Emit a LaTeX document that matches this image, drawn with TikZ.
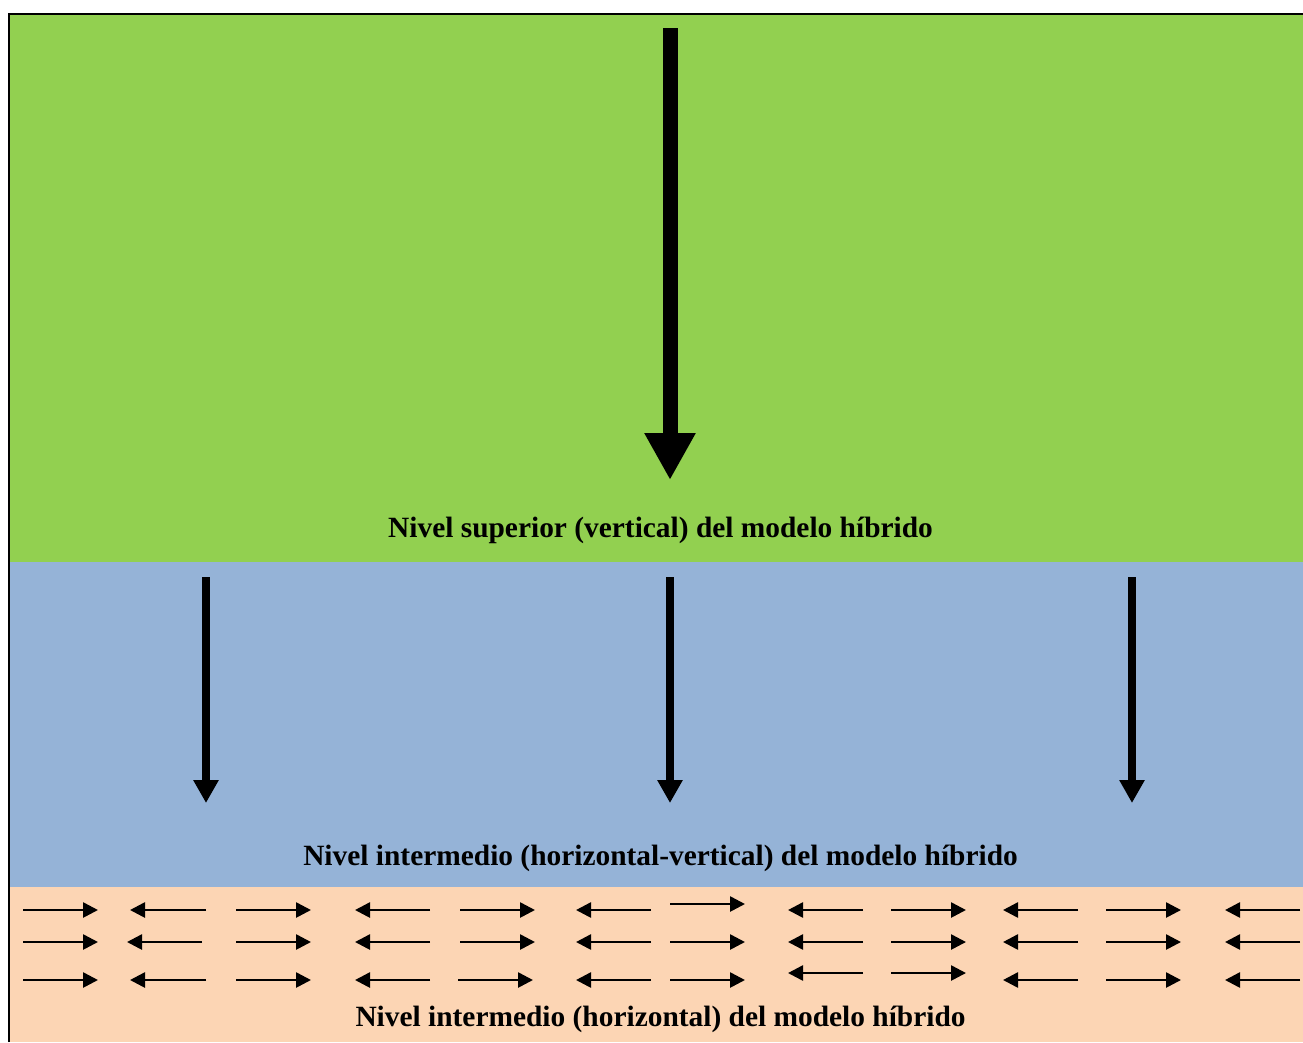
\documentclass[tikz,border=0pt]{standalone}
\usepackage{fontspec}
\setmainfont{Liberation Serif}
\usepackage{tikz}
\usetikzlibrary{arrows.meta,positioning}
\definecolor{nivelverde}{RGB}{146,208,80}
\definecolor{nivelazul}{RGB}{149,179,215}
\definecolor{nivelnaranja}{RGB}{252,213,180}
\tikzset{
  % 层带
  band/.style={draw=none, inner sep=0pt, outer sep=0pt, anchor=north west, minimum width=1293pt},
  % 标题文字
  nivel/.style={anchor=base, inner sep=0pt, font=\fontsize{29.4}{35}\selectfont\bfseries},
  % 箭头样式
  bigarr/.style={-{Triangle[length=47pt,width=48pt]}, line width=15pt, black},
  medarr/.style={-{Triangle[length=23pt,width=24pt]}, line width=8pt, black},
  harr/.style={-{Triangle[length=15pt,width=15pt]}, line width=2.6pt, black},
}
\begin{document}
\begin{tikzpicture}[x=1pt, y=-1pt]
        \useasboundingbox (0,0) rectangle (1303,1042);

        % 三个层带
        \node[band, fill=nivelverde, minimum height=548pt] (verde) at (10,14) {};
        \node[band, fill=nivelazul, minimum height=325pt] (azul) at (10,562) {};
        \node[band, fill=nivelnaranja, minimum height=155pt] (naranja) at (10,887) {};

        % 边框
        \draw[line width=2pt] (9.3,1042) -- (9.3,13.7) -- (1303,13.7);

        % 上层
        \draw[bigarr] (670,28) -- (670,480);
        \node[nivel] (tsup) at (660.5,537) {Nivel superior (vertical) del modelo híbrido};

        % 中层
        \foreach \x in {206,670,1132}
            \draw[medarr] (\x,577) -- (\x,803);
        \node[nivel] (tmed) at (660.5,865) {Nivel intermedio (horizontal-vertical) del modelo híbrido};

        % 水平层
        \foreach \xa/\xb/\y in {23/98/910, 206/130/910, 236/311/910, 430/355/910,
                                460/535/910, 651/576/910, 670/745/904, 863/788/910,
                                891/966/910, 1078/1003/910, 1106/1181/910, 1300/1225/910}
            \draw[harr] (\xa,\y) -- (\xb,\y);
        \foreach \xa/\xb/\y in {23/98/942, 202/127/942, 236/311/942, 430/355/942,
                                460/535/942, 651/576/942, 670/745/942, 863/788/942,
                                891/966/942, 1078/1003/942, 1106/1181/942, 1300/1225/942}
            \draw[harr] (\xa,\y) -- (\xb,\y);
        \foreach \xa/\xb/\y in {23/98/980, 206/130/980, 236/311/980, 430/355/980,
                                458/533/980, 651/576/980, 670/745/980, 863/788/973,
                                891/966/973, 1078/1003/980, 1106/1181/980, 1300/1225/980}
            \draw[harr] (\xa,\y) -- (\xb,\y);
        \node[nivel] (thor) at (660.5,1026) {Nivel intermedio (horizontal) del modelo híbrido};
    \end{tikzpicture}
\end{document}
